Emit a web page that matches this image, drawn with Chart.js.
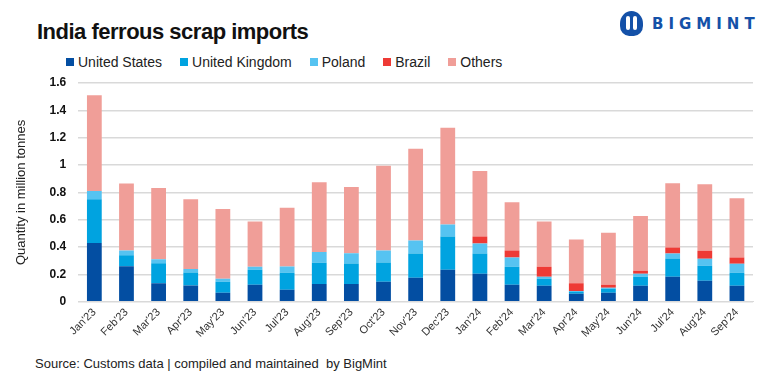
<!DOCTYPE html>
<html lang="en">
<head>
    <meta charset="UTF-8">
    <title>India ferrous scrap imports</title>
    <script src="https://cdn.jsdelivr.net/npm/chart.js"></script>
    <style>
        body {
            margin: 0;
            width: 768px;
            height: 384px;
            overflow: hidden;
            background: #fff;
            font-family: "Liberation Sans", Arial, sans-serif;
            position: relative;
        }
        .title {
            position: absolute;
            left: 37px;
            top: 19px;
            font-weight: bold;
            font-size: 22px;
            color: #111;
            letter-spacing: -0.5px;
        }
        .logo {
            position: absolute;
            left: 620px;
            top: 11px;
            display: flex;
            align-items: center;
        }
        .logo .icon {
            width: 23px;
            height: 25px;
            border-radius: 50% 50% 40% 40%;
            background: #1451a8;
            position: relative;
            margin-right: 9px;
        }
        .logo .icon span {
            position: absolute;
            top: 5px;
            width: 4px;
            height: 14px;
            background: #fff;
            border-radius: 2px;
        }
        .logo .text {
            font-family: "DejaVu Sans", sans-serif;
            font-weight: bold;
            font-size: 15px;
            color: #1451a8;
            letter-spacing: 5px;
        }
        .legend {
            position: absolute;
            left: 66px;
            top: 54px;
            display: flex;
            font-size: 14px;
            color: #222;
            white-space: nowrap;
        }
        .legend .item {
            display: flex;
            align-items: center;
            margin-right: 18px;
        }
        .legend .box {
            width: 8px;
            height: 8px;
            margin-right: 4px;
        }
        .source {
            position: absolute;
            left: 35px;
            top: 356px;
            font-size: 13px;
            color: #222;
            white-space: nowrap;
        }
        #chartBox {
            position: absolute;
            left: 0;
            top: 0;
            width: 768px;
            height: 344px;
        }
    </style>
</head>
<body>
    <div class="title">India ferrous scrap imports</div>
    <div class="logo">
        <div class="icon"><span style="left:6px"></span><span style="left:13px"></span></div>
        <div class="text">BIGMINT</div>
    </div>
    <div class="legend" id="legend"></div>
    <div id="chartBox"><canvas id="scrapChart"></canvas></div>
    <div class="source">Source: Customs data | compiled and maintained&nbsp; by BigMint</div>

    <script type="text/javascript">
        // 数据
        const months = ["Jan'23", "Feb'23", "Mar'23", "Apr'23", "May'23", "Jun'23", "Jul'23",
            "Aug'23", "Sep'23", "Oct'23", "Nov'23", "Dec'23", "Jan'24", "Feb'24", "Mar'24",
            "Apr'24", "May'24", "Jun'24", "Jul'24", "Aug'24", "Sep'24"];
        const unitedStates = [0.43, 0.26, 0.135, 0.12, 0.066, 0.125, 0.088, 0.13, 0.13, 0.147, 0.176, 0.235,
            0.206, 0.125, 0.118, 0.06, 0.066, 0.118, 0.184, 0.154, 0.118];
        const unitedKingdom = [0.32, 0.08, 0.147, 0.095, 0.08, 0.11, 0.125, 0.155, 0.15, 0.14, 0.177, 0.243,
            0.147, 0.132, 0.051, 0.012, 0.03, 0.066, 0.132, 0.11, 0.095];
        const poland = [0.06, 0.035, 0.03, 0.025, 0.022, 0.022, 0.045, 0.08, 0.075, 0.088, 0.096, 0.088,
            0.073, 0.067, 0.015, 0.008, 0.007, 0.022, 0.037, 0.051, 0.066];
        const brazil = [0, 0, 0, 0, 0, 0, 0, 0, 0, 0, 0, 0,
            0.052, 0.051, 0.073, 0.055, 0.022, 0.022, 0.044, 0.059, 0.045];
        const others = [0.70, 0.49, 0.52, 0.51, 0.51, 0.33, 0.43, 0.51, 0.485, 0.62, 0.67, 0.706,
            0.478, 0.353, 0.331, 0.32, 0.38, 0.40, 0.47, 0.485, 0.433];
        const yTicks = [0, 0.2, 0.4, 0.6, 0.8, 1, 1.2, 1.4, 1.6];

        const series = [
            { label: 'United States', data: unitedStates, color: '#034ea2' },
            { label: 'United Kingdom', data: unitedKingdom, color: '#00a3e0' },
            { label: 'Poland', data: poland, color: '#56c3f1' },
            { label: 'Brazil', data: brazil, color: '#ee3a35' },
            { label: 'Others', data: others, color: '#f09e98' }
        ];

        // 图例
        const legend = document.getElementById('legend');
        series.forEach(s => {
            const item = document.createElement('div');
            item.className = 'item';
            item.innerHTML = '<span class="box" style="background:' + s.color + '"></span>' + s.label;
            legend.appendChild(item);
        });

        const ctx = document.getElementById('scrapChart').getContext('2d');
        new Chart(ctx, {
            type: 'bar',
            data: {
                labels: months,
                datasets: series.map(s => ({
                    label: s.label,
                    data: s.data,
                    backgroundColor: s.color,
                    borderWidth: 0,
                    categoryPercentage: 1,
                    barPercentage: 0.46
                }))
            },
            options: {
                responsive: true,
                maintainAspectRatio: false,
                animation: false,
                layout: { padding: { top: 83, right: 15, left: 14, bottom: 0 } },
                plugins: {
                    legend: { display: false },
                    tooltip: { enabled: false }
                },
                scales: {
                    x: {
                        stacked: true,
                        grid: { display: false, drawTicks: false },
                        border: { color: '#d9d9d9', width: 1 },
                        ticks: {
                            maxRotation: 45,
                            minRotation: 45,
                            padding: 4,
                            color: '#333',
                            font: { family: "'Liberation Sans', Arial, sans-serif", size: 11 }
                        }
                    },
                    y: {
                        stacked: true,
                        min: 0,
                        max: 1.6,
                        afterBuildTicks: axis => { axis.ticks = yTicks.map(v => ({ value: v })); },
                        grid: { color: '#d9d9d9', lineWidth: 1.5, drawTicks: false },
                        border: { display: false },
                        title: {
                            display: true,
                            text: 'Quantity in million tonnes',
                            color: '#222',
                            padding: { top: 0, bottom: 8 },
                            font: { family: "'Liberation Sans', Arial, sans-serif", size: 13 }
                        },
                        ticks: {
                            padding: 12,
                            color: '#111',
                            font: { family: "'Liberation Sans', Arial, sans-serif", size: 12, weight: 'bold' },
                            callback: v => String(v)
                        }
                    }
                }
            }
        });
    </script>
</body>
</html>
